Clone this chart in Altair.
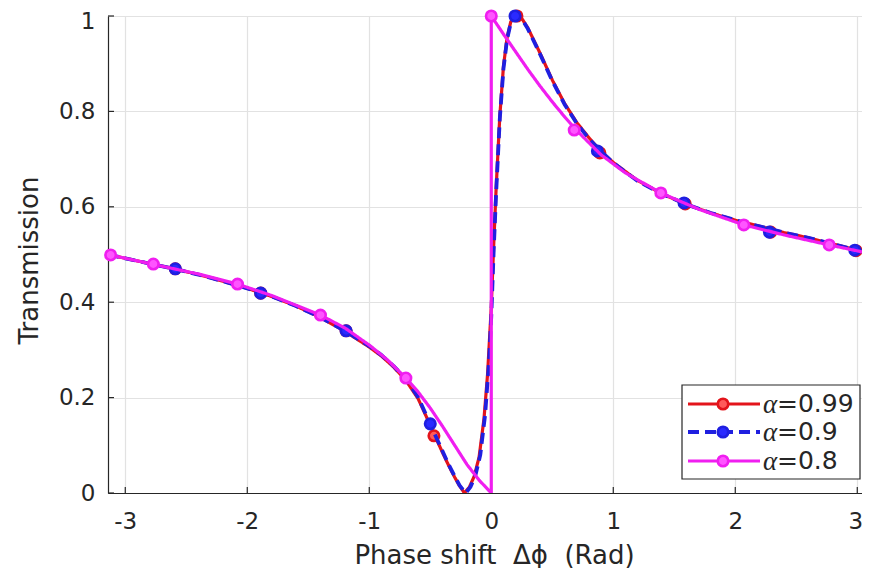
import math
import altair as alt
import pandas as pd

PI = math.pi

# ---------------- data ----------------
series_names = ["α=0.99", "α=0.9", "α=0.8"]

red_x = [-3.1416, -3.0, -2.8, -2.6, -2.4, -2.2, -2.0, -1.8, -1.6, -1.4, -1.2, -1.0,
         -0.9, -0.8, -0.7, -0.6, -0.5, -0.45, -0.4, -0.35, -0.3, -0.26, -0.22, -0.18,
         -0.14, -0.10, -0.06, -0.03, 0.0, 0.02, 0.04, 0.07, 0.10, 0.13, 0.16, 0.20,
         0.25, 0.30, 0.40, 0.50, 0.60, 0.70, 0.80, 0.90, 1.0, 1.2, 1.4, 1.6, 1.8,
         2.0, 2.2, 2.4, 2.6, 2.8, 3.0, 3.1416]
red_t = [0.500, 0.492, 0.481, 0.470, 0.458, 0.444, 0.429, 0.412, 0.392, 0.368, 0.339, 0.306,
         0.287, 0.264, 0.236, 0.198, 0.142, 0.113, 0.085, 0.058, 0.033, 0.015, 0.0, 0.012,
         0.035, 0.075, 0.155, 0.25, 0.39, 0.52, 0.64, 0.79, 0.895, 0.955, 0.988, 1.0,
         0.995, 0.975, 0.922, 0.866, 0.817, 0.777, 0.745, 0.716, 0.693, 0.655, 0.627, 0.605, 0.587,
         0.572, 0.559, 0.546, 0.535, 0.522, 0.509, 0.500]
red_mx = [-2.59, -1.89, -1.19, -0.47, 0.21, 0.89, 1.59, 2.29, 2.99]
red_mt = [0.470, 0.419, 0.340, 0.120, 1.000, 0.713, 0.606, 0.547, 0.508]

blue_x = [-3.1416, -3.0, -2.8, -2.6, -2.4, -2.2, -2.0, -1.8, -1.6, -1.4, -1.2, -1.0,
          -0.9, -0.8, -0.7, -0.6, -0.5, -0.45, -0.4, -0.35, -0.3, -0.26, -0.21, -0.17,
          -0.13, -0.09, -0.05, -0.02, 0.0, 0.02, 0.04, 0.07, 0.10, 0.13, 0.16, 0.20,
          0.25, 0.30, 0.40, 0.50, 0.60, 0.70, 0.80, 0.90, 1.0, 1.2, 1.4, 1.6, 1.8,
          2.0, 2.2, 2.4, 2.6, 2.8, 3.0, 3.1416]
blue_t = [0.500, 0.492, 0.481, 0.470, 0.458, 0.444, 0.429, 0.412, 0.392, 0.368, 0.340, 0.308,
          0.289, 0.266, 0.239, 0.201, 0.145, 0.116, 0.088, 0.060, 0.035, 0.016, 0.0, 0.013,
          0.037, 0.080, 0.165, 0.27, 0.37, 0.51, 0.63, 0.785, 0.89, 0.952, 0.986, 1.0,
          0.994, 0.973, 0.920, 0.864, 0.815, 0.775, 0.743, 0.716, 0.692, 0.654, 0.627, 0.605, 0.587,
          0.572, 0.559, 0.546, 0.535, 0.522, 0.509, 0.500]
blue_mx = [-2.59, -1.89, -1.19, -0.50, 0.195, 0.87, 1.58, 2.28, 2.98]
blue_mt = [0.470, 0.419, 0.340, 0.145, 1.000, 0.717, 0.608, 0.547, 0.509]

mag_x = [-3.1416, -2.8, -2.4, -2.08, -1.8, -1.4, -1.2, -1.0, -0.85, -0.7, -0.6, -0.5,
         -0.4, -0.3, -0.2, -0.1, 0.0, 0.0, 0.1, 0.2, 0.3, 0.4, 0.5, 0.6, 0.7, 0.9,
         1.1, 1.39, 1.7, 2.07, 2.4, 2.77, 3.1416]
mag_t = [0.500, 0.481, 0.459, 0.438, 0.414, 0.373, 0.346, 0.310, 0.279, 0.241, 0.212, 0.178,
         0.140, 0.100, 0.060, 0.027, 0.0, 1.0, 0.962, 0.925, 0.888, 0.853, 0.820, 0.789, 0.760, 0.709,
         0.671, 0.629, 0.595, 0.562, 0.541, 0.520, 0.500]
mag_mx = [-3.12, -2.77, -2.08, -1.40, -0.70, 0.0, 0.68, 1.39, 2.07, 2.77]
mag_mt = [0.499, 0.480, 0.438, 0.373, 0.241, 1.000, 0.761, 0.629, 0.562, 0.520]

x_ticks = [-3, -2, -1, 0, 1, 2, 3]
y_ticks = [0, 0.2, 0.4, 0.6, 0.8, 1]

# ---------------- styling ----------------
FONT = "DejaVu Sans"
TXT = "#262626"
GRID = "#e2e2e2"
W, H = 754, 477
UNIT = 122.0

colors = {"α=0.99": "#e3141b", "α=0.9": "#1f1fe0", "α=0.8": "#f01ef0"}
fills = {"α=0.99": "#ff5a5a", "α=0.9": "#2a2aff", "α=0.8": "#ff55ff"}
widths = {"α=0.99": 3.2, "α=0.9": 3.8, "α=0.8": 3.2}
dashes = {"α=0.99": [1, 0], "α=0.9": [11, 6], "α=0.8": [1, 0]}

xscale = alt.Scale(domain=[-PI, -PI + W / UNIT], nice=False, zero=False)
yscale = alt.Scale(domain=[0, 1], nice=False, zero=False)

x_axis = alt.Axis(values=x_ticks, grid=True, gridColor=GRID, gridWidth=1.2,
                  ticks=False, domainColor=TXT, domainWidth=1.2,
                  labelExpr="datum.value + ''", labelFont=FONT, labelFontSize=23,
                  labelColor=TXT, labelBaseline="alphabetic", labelPadding=35,
                  labelFlush=False,
                  labelOffset={"condition": {"test": "datum.value == 3", "value": -2}, "value": 0},
                  title="Phase shift\u00a0 Δϕ\u00a0 (Rad)", titleFont=FONT, titleFontSize=26,
                  titleFontWeight="normal", titleColor=TXT, titleX=386, titleY=70,
                  titleAlign="center", titleBaseline="alphabetic")
y_axis = alt.Axis(values=y_ticks, grid=True, gridColor=GRID, gridWidth=1.2,
                  ticks=False, domainColor=TXT, domainWidth=1.2, format="~g",
                  labelFont=FONT, labelFontSize=23, labelColor=TXT, labelPadding=13,
                  labelFlush=False,
                  labelOffset={"condition": {"test": "datum.value == 1", "value": 5}, "value": 0},
                  title="Transmission", titleFont=FONT, titleFontSize=26,
                  titleFontWeight="normal", titleColor=TXT, titleAngle=270,
                  titleX=-71, titleY=244, titleAlign="center", titleBaseline="alphabetic")

X = alt.X("x:Q", scale=xscale, axis=x_axis)
Y = alt.Y("T:Q", scale=yscale, axis=y_axis)

layers = []

# inward tick marks (MATLAB style)
layers.append(
    alt.Chart(pd.DataFrame({"x": x_ticks})).mark_rule(color=TXT, strokeWidth=1.2).encode(
        x=X, y=alt.value(H), y2=alt.value(H - 6))
)
layers.append(
    alt.Chart(pd.DataFrame({"T": y_ticks})).mark_rule(color=TXT, strokeWidth=1.2).encode(
        y=Y, x=alt.value(0), x2=alt.value(6))
)


def line_layer(xs, ts, name):
    df = pd.DataFrame({"x": xs, "T": ts, "i": list(range(len(xs)))})
    return alt.Chart(df).mark_line(
        clip=True, color=colors[name], strokeWidth=widths[name],
        strokeDash=dashes[name], strokeJoin="round", strokeCap="butt"
    ).encode(x=X, y=Y, order=alt.Order("i:Q"))


def marker_layer(xs, ts, name):
    df = pd.DataFrame({"x": xs, "T": ts})
    return alt.Chart(df).mark_point(
        shape="circle", filled=False, size=110, strokeWidth=2.6,
        stroke=colors[name], fill=fills[name], fillOpacity=1, opacity=1
    ).encode(x=X, y=Y)


layers += [
    line_layer(red_x, red_t, "α=0.99"), marker_layer(red_mx, red_mt, "α=0.99"),
    line_layer(blue_x, blue_t, "α=0.9"), marker_layer(blue_mx, blue_mt, "α=0.9"),
    line_layer(mag_x, mag_t, "α=0.8"), marker_layer(mag_mx, mag_mt, "α=0.8"),
]

# ---------------- legend (drawn by hand, MATLAB style) ----------------
one = pd.DataFrame({"k": [0]})
LX0, LX1, LY0, LY1 = 574, 752, 369, 463
layers.append(
    alt.Chart(one).mark_rect(fill="white", stroke=TXT, strokeWidth=1.2).encode(
        x=alt.value(LX0), x2=alt.value(LX1), y=alt.value(LY0), y2=alt.value(LY1))
)
row_y = [388, 416, 445]
for name, ry in zip(series_names, row_y):
    layers.append(
        alt.Chart(one).mark_rule(color=colors[name], strokeWidth=widths[name],
                                 strokeDash=dashes[name]).encode(
            x=alt.value(580), x2=alt.value(652), y=alt.value(ry))
    )
    layers.append(
        alt.Chart(one).mark_point(shape="circle", filled=False, size=110, strokeWidth=2.6,
                                  stroke=colors[name], fill=fills[name], fillOpacity=1,
                                  opacity=1).encode(
            x=alt.value(615), y=alt.value(ry))
    )
    layers.append(
        alt.Chart(one).mark_text(align="left", baseline="middle", font="Liberation Serif",
                                 fontStyle="italic", fontSize=27, color=TXT).encode(
            x=alt.value(655), y=alt.value(ry + 1), text=alt.value(name[0]))
    )
    layers.append(
        alt.Chart(one).mark_text(align="left", baseline="middle", font=FONT,
                                 fontSize=25, color=TXT).encode(
            x=alt.value(669), y=alt.value(ry), text=alt.value(name[1:]))
    )

chart = alt.layer(*layers).properties(
    width=W, height=H,
    padding={"left": 100, "top": 8, "right": 0, "bottom": 75},
    autosize=alt.AutoSizeParams(type="none"),
    background="white",
).configure_view(stroke=None)

chart.save("out.html", embed_options={"renderer": "svg", "actions": False})
